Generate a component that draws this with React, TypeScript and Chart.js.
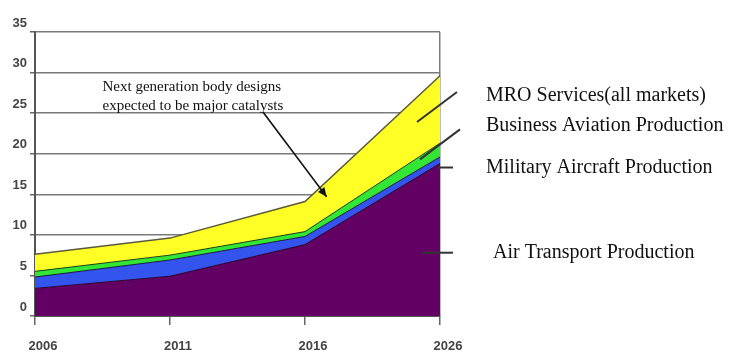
import React, { useEffect, useRef } from "react";
import { Chart, registerables } from "chart.js";

Chart.register(...registerables);

// ---- data ----
const years = ["2006", "2011", "2016", "2026"];
const airTransport = [3.4, 4.9, 8.8, 18.8];
const military = [1.4, 2.0, 1.0, 0.8];
const business = [0.7, 0.6, 0.6, 1.7];
const mro = [2.1, 2.1, 3.7, 8.3];
const yTickValues = [0, 5, 10, 15, 20, 25, 30, 35];
const seriesNames = [
  "Air Transport Production",
  "Military Aircraft Production",
  "Business Aviation Production",
  "MRO Services(all markets)",
];
const noteLines = ["Next generation body designs", "expected to be major catalysts"];

// label placement: [name index, label y (data units), leader x0 offset, y0, x1 offset, y1, text x offset]
const labelPlacement: [number, number, number, number, number, number, number][] = [
  [3, 27.1, -23, 23.9, 17, 27.6, 46],
  [2, 23.4, -20, 19.3, 20, 23.0, 46],
  [1, 18.3, -3, 18.3, 13, 18.3, 46],
  [0, 7.8, -18, 7.8, 13, 7.8, 53],
];

const overlayPlugin = {
  id: "overlay",
  afterDraw(chart: any) {
    const { ctx, chartArea } = chart;
    const xs = chart.scales.x;
    const ys = chart.scales.y;
    const R = chartArea.right;
    ctx.save();
    // annotation text
    ctx.fillStyle = "#111";
    ctx.font = "15px 'Liberation Serif', 'Times New Roman', serif";
    ctx.textAlign = "left";
    ctx.textBaseline = "middle";
    const tx = xs.getPixelForValue(0.5);
    ctx.fillText(noteLines[0], tx, ys.getPixelForValue(28.2));
    ctx.fillText(noteLines[1], tx, ys.getPixelForValue(25.9));
    // arrow
    const ax0 = xs.getPixelForValue(1.69), ay0 = ys.getPixelForValue(25.1);
    const ax1 = xs.getPixelForValue(2.16), ay1 = ys.getPixelForValue(14.7);
    ctx.strokeStyle = "#111";
    ctx.lineWidth = 1.6;
    ctx.beginPath();
    ctx.moveTo(ax0, ay0);
    ctx.lineTo(ax1, ay1);
    ctx.stroke();
    const ang = Math.atan2(ay1 - ay0, ax1 - ax0);
    const hl = 9, hw = 4;
    ctx.beginPath();
    ctx.moveTo(ax1, ay1);
    ctx.lineTo(ax1 - hl * Math.cos(ang) + hw * Math.sin(ang), ay1 - hl * Math.sin(ang) - hw * Math.cos(ang));
    ctx.lineTo(ax1 - hl * Math.cos(ang) - hw * Math.sin(ang), ay1 - hl * Math.sin(ang) + hw * Math.cos(ang));
    ctx.closePath();
    ctx.fillStyle = "#111";
    ctx.fill();
    // series labels with leader lines
    ctx.font = "20px 'Liberation Serif', 'Times New Roman', serif";
    for (const [idx, ly, x0, y0, x1, y1, tOff] of labelPlacement) {
      ctx.strokeStyle = "#333";
      ctx.lineWidth = 2;
      ctx.beginPath();
      ctx.moveTo(R + x0, ys.getPixelForValue(y0));
      ctx.lineTo(R + x1, ys.getPixelForValue(y1));
      ctx.stroke();
      ctx.fillStyle = "#111";
      ctx.fillText(seriesNames[idx], R + tOff, ys.getPixelForValue(ly));
    }
    ctx.restore();
  },
};

export default function App() {
  const ref = useRef<HTMLCanvasElement | null>(null);
  useEffect(() => {
    document.body.style.margin = "0";
    const canvas = ref.current!;
    const mk = (label: string, data: number[], bg: string, border: string, fill: any, bw = 1) => ({
      label,
      data,
      backgroundColor: bg,
      borderColor: border,
      borderWidth: bw,
      fill,
      pointRadius: 0,
      tension: 0,
    });
    const chart = new Chart(canvas, {
      type: "line",
      data: {
        labels: years,
        datasets: [
          mk(seriesNames[0], airTransport, "#620064", "#2a002a", "origin"),
          mk(seriesNames[1], military, "#3355ee", "#1a1a40", "-1"),
          mk(seriesNames[2], business, "#33e633", "#1a401a", "-1"),
          mk(seriesNames[3], mro, "#ffff26", "#5a5a3a", "-1", 1.5),
        ],
      },
      options: {
        responsive: false,
        animation: false,
        layout: { padding: { top: 32, right: 289, left: 0, bottom: 0 } },
        plugins: { legend: { display: false }, tooltip: { enabled: false } },
        scales: {
          x: {
            type: "category",
            offset: false,
            grid: {
              color: (c: any) => (c.index === years.length - 1 ? "#7a7a7a" : "rgba(0,0,0,0)"),
              tickColor: "#666",
              lineWidth: 1.5,
              tickLength: 9,
            },
            border: { color: "#555", width: 2 },
            ticks: {
              color: "#444",
              font: { family: "'Liberation Sans', Arial, sans-serif", size: 13, weight: "bold" },
              labelOffset: 8,
              padding: 14,
              maxRotation: 0,
            },
            afterFit: (s: any) => {
              s.height = 38;
            },
          },
          y: {
            stacked: true,
            min: 0,
            max: 35,
            afterBuildTicks: (s: any) => {
              s.ticks = yTickValues.map((v) => ({ value: v }));
            },
            grid: { color: "#7a7a7a", lineWidth: 1.5, tickLength: 5, tickColor: "#666" },
            border: { color: "#555", width: 2 },
            ticks: {
              color: "#444",
              font: { family: "'Liberation Sans', Arial, sans-serif", size: 13, weight: "bold" },
              labelOffset: -9,
              padding: 3,
            },
            afterFit: (s: any) => {
              s.width = 35;
            },
          },
        },
      },
      plugins: [overlayPlugin],
    } as any);
    return () => chart.destroy();
  }, []);
  return (
    <div style={{ width: 729, height: 354, background: "#fff" }}>
      <canvas ref={ref} width={729} height={354} style={{ display: "block", width: 729, height: 354 }} />
    </div>
  );
}
